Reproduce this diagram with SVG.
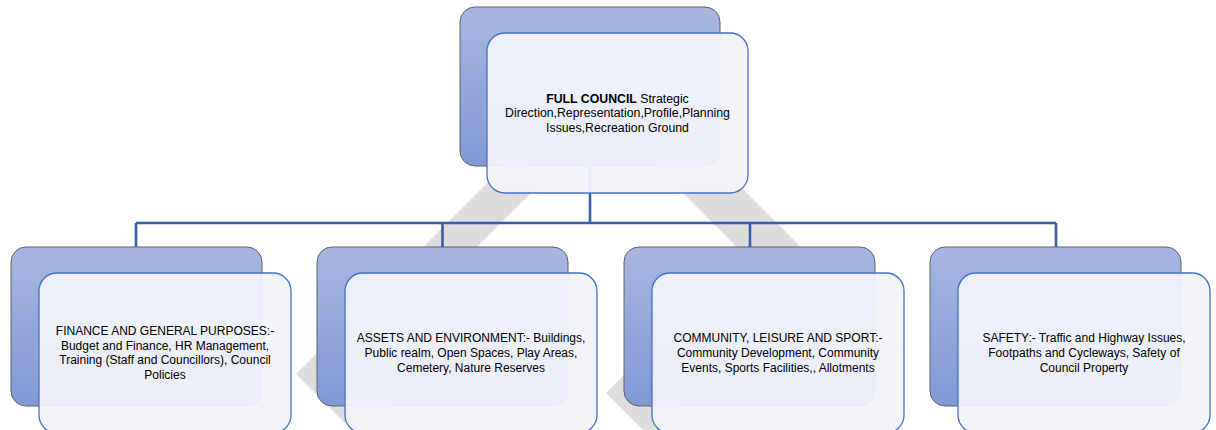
<svg xmlns="http://www.w3.org/2000/svg" width="1216" height="430" viewBox="0 0 1216 430">
  <defs>
    <linearGradient id="outerGrad" x1="0" y1="0" x2="0" y2="1">
      <stop offset="0" stop-color="#a9b7e0"/>
      <stop offset="1" stop-color="#8098d4"/>
    </linearGradient>
    <style>
      .outer { fill: url(#outerGrad); stroke: #5f6068; stroke-width: 1; }
      .inner { fill: #f1f3f9; fill-opacity: 0.95; stroke: #4472c4; stroke-width: 1.3; }
      .lbl { font-family: "Liberation Sans", Arial, sans-serif; font-size: 12px; fill: #000000; text-anchor: middle; }
      .wide { font-size: 12.3px; }
      .b { font-weight: bold; }
      .conn { fill: none; stroke: #3b5ca6; stroke-width: 2.6; }
      .wm { fill: #dddddd; }
    </style>
  </defs>
  <rect width="1216" height="430" fill="#ffffff"/>

  <g id="watermark">
    <polygon class="wm" points="296,374 515,155 542,182 353,371 422,440 362,440"/>
    <polygon class="wm" points="625,135 657,103 903,349 871,381"/>
    <polygon class="wm" points="606,393 689.5,309.5 719.5,339.5 666,393 713,440 653,440"/>
  </g>

  <g id="connectors">
    <path class="conn" d="M590 166 V223 M136 223 H1056 M136 223 V247 M442.5 223 V247 M750 223 V247 M1056 223 V247"/>
  </g>

  <g id="full-council">
    <rect class="outer" x="460" y="7" width="260" height="159" rx="15"/>
    <rect class="inner" x="487" y="33" width="261" height="160" rx="18"/>
    <text class="lbl wide" x="617.5" y="102.5"><tspan class="b">FULL COUNCIL</tspan> Strategic</text>
    <text class="lbl wide" x="617.5" y="117">Direction,Representation,Profile,Planning</text>
    <text class="lbl wide" x="617.5" y="131.5">Issues,Recreation Ground</text>
  </g>

  <g id="finance">
    <rect class="outer" x="11" y="247" width="251" height="159" rx="15"/>
    <rect class="inner" x="39" y="273" width="252" height="160" rx="18"/>
    <text class="lbl" x="165" y="335">FINANCE AND GENERAL PURPOSES:-</text>
    <text class="lbl" x="165" y="349.6">Budget and Finance, HR Management,</text>
    <text class="lbl" x="165" y="364.2">Training (Staff and Councillors), Council</text>
    <text class="lbl" x="165" y="378.8">Policies</text>
  </g>

  <g id="assets">
    <rect class="outer" x="317" y="247" width="251" height="159" rx="15"/>
    <rect class="inner" x="345" y="273" width="252" height="160" rx="18"/>
    <text class="lbl" x="471" y="342.4">ASSETS AND ENVIRONMENT:- Buildings,</text>
    <text class="lbl" x="471" y="357">Public realm, Open Spaces, Play Areas,</text>
    <text class="lbl" x="471" y="371.6">Cemetery, Nature Reserves</text>
  </g>

  <g id="community">
    <rect class="outer" x="624" y="247" width="251" height="159" rx="15"/>
    <rect class="inner" x="652" y="273" width="252" height="160" rx="18"/>
    <text class="lbl" x="778" y="342.4">COMMUNITY, LEISURE AND SPORT:-</text>
    <text class="lbl" x="778" y="357">Community Development, Community</text>
    <text class="lbl" x="778" y="371.6">Events, Sports Facilities,, Allotments</text>
  </g>

  <g id="safety">
    <rect class="outer" x="930" y="247" width="251" height="159" rx="15"/>
    <rect class="inner" x="958" y="273" width="252" height="160" rx="18"/>
    <text class="lbl" x="1084" y="342.4">SAFETY:- Traffic and Highway Issues,</text>
    <text class="lbl" x="1084" y="357">Footpaths and Cycleways, Safety of</text>
    <text class="lbl" x="1084" y="371.6">Council Property</text>
  </g>
</svg>
